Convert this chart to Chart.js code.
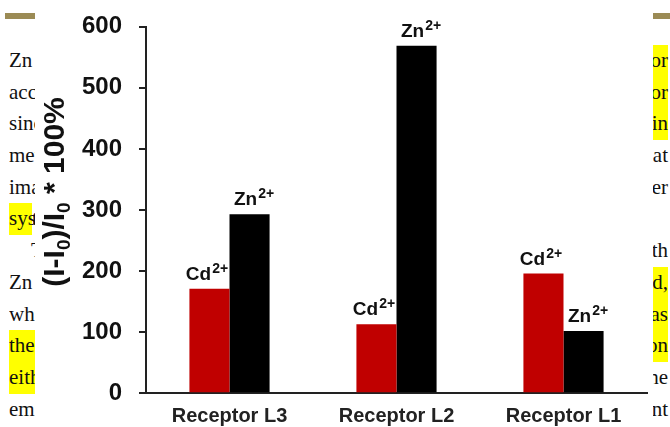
<!DOCTYPE html>
<html>
<head>
<meta charset="utf-8">
<script src="https://cdn.jsdelivr.net/npm/chart.js@4"></script>
<style>
  body { margin: 0; width: 670px; height: 427px; overflow: hidden; background: #fff; position: relative; }
  .rule { position: absolute; top: 13px; height: 6px; background: #9b8b55; }
  .col { position: absolute; top: 45px; height: 382px; overflow: hidden;
         font-family: "Liberation Serif", serif; font-size: 21px; line-height: 31.7px; color: #111; }
  .col div { white-space: nowrap; height: 31.7px; }
  .hl { background: #ffff00; display: inline-block; }
  #left { left: 9px; width: 26px; }
  #right { left: 653px; width: 17px; }
  #right .inner { position: absolute; right: 2px; top: 0; text-align: right; }
  #wrap { position: absolute; left: 35px; top: 0; width: 618px; height: 427px; background: #fff; }
</style>
</head>
<body>
<div class="rule" style="left:5px;width:30px"></div>
<div class="rule" style="left:653px;width:17px"></div>

<div class="col" id="left">
  <div>Zn</div>
  <div>accepted</div>
  <div>since</div>
  <div>metal</div>
  <div>imaging</div>
  <div><span class="hl" style="width:23px">sys</span>tem</div>
  <div style="padding-left:22px">The</div>
  <div>Zn</div>
  <div>which</div>
  <div><span class="hl" style="width:26px">the</span></div>
  <div><span class="hl" style="width:26px">either</span></div>
  <div>emission</div>
</div>

<div class="col" id="right">
  <div class="inner">
    <div><span class="hl" style="padding-left:20px">for</span></div>
    <div><span class="hl" style="padding-left:20px">for</span></div>
    <div><span class="hl" style="padding-left:20px">ain</span></div>
    <div>that</div>
    <div>ever</div>
    <div>&nbsp;</div>
    <div>with</div>
    <div><span class="hl" style="padding-left:20px">ed,</span></div>
    <div><span class="hl" style="padding-left:20px">was</span></div>
    <div><span class="hl" style="padding-left:20px">on</span></div>
    <div>the</div>
    <div>ent</div>
  </div>
</div>

<div id="wrap"><canvas id="myChart" width="618" height="427"></canvas></div>

<script>
// receptors along the x-axis
var receptors = ['Receptor L3', 'Receptor L2', 'Receptor L1'];
// response of each receptor to the two metal ions
var cadmium = [171, 113, 196];
var zinc = [293, 569, 102];
var ions = ['Cd', 'Zn'];
var charge = '2+';
// y-axis range
var yMin = 0, yMax = 600, yStep = 100;

var sans = '"Liberation Sans", Arial, sans-serif';

// ion labels above every bar, with the charge as a superscript
var ionLabels = {
  id: 'ionLabels',
  afterDatasetsDraw: function (chart) {
    var ctx = chart.ctx;
    ctx.save();
    ctx.fillStyle = '#111';
    ctx.textBaseline = 'alphabetic';
    ctx.textAlign = 'left';
    chart.data.datasets.forEach(function (ds, i) {
      var shift = i === 0 ? -3 : 4;
      chart.getDatasetMeta(i).data.forEach(function (bar) {
        ctx.font = 'bold 19px ' + sans;
        var w1 = ctx.measureText(ds.label).width;
        ctx.font = 'bold 14px ' + sans;
        var w2 = ctx.measureText(charge).width;
        var x = bar.x + shift - (w1 + w2) / 2;
        var y = bar.y - 9;
        ctx.font = 'bold 19px ' + sans;
        ctx.fillText(ds.label, x, y);
        ctx.font = 'bold 14px ' + sans;
        ctx.fillText(charge, x + w1 + 1, y - 7);
      });
    });
    ctx.restore();
  }
};

// rotated y-axis title with subscripts
var yTitle = {
  id: 'yTitle',
  afterDraw: function (chart) {
    var ctx = chart.ctx;
    var parts = [['(I-I', 0], ['0', 1], [')/I', 0], ['0', 1], [' * 100%', 0]];
    var big = 'bold 30px ' + sans, small = 'bold 19px ' + sans;
    var total = 0;
    parts.forEach(function (p) {
      ctx.font = p[1] ? small : big;
      total += ctx.measureText(p[0]).width;
    });
    ctx.save();
    ctx.translate(29, 192);
    ctx.rotate(-Math.PI / 2);
    ctx.fillStyle = '#111';
    ctx.textBaseline = 'alphabetic';
    var x = -total / 2;
    parts.forEach(function (p) {
      ctx.font = p[1] ? small : big;
      ctx.fillText(p[0], x, p[1] ? 6 : 0);
      x += ctx.measureText(p[0]).width;
    });
    ctx.restore();
  }
};

var ctx = document.getElementById('myChart');
var myChart = new Chart(ctx, {
  type: 'bar',
  data: {
    labels: receptors,
    datasets: [
      {
        label: ions[0],
        data: cadmium,
        backgroundColor: '#c00000',
        barPercentage: 1,
        categoryPercentage: 0.48
      },
      {
        label: ions[1],
        data: zinc,
        backgroundColor: '#000000',
        barPercentage: 1,
        categoryPercentage: 0.48
      }
    ]
  },
  options: {
    responsive: false,
    animation: false,
    layout: { padding: { top: 26.7, right: 6, left: 0, bottom: 0 } },
    plugins: { legend: { display: false }, tooltip: { enabled: false } },
    scales: {
      x: {
        grid: { display: false },
        border: { display: true, color: '#222', width: 2 },
        ticks: { color: '#222', padding: 3, font: { family: sans, size: 20, weight: 'bold' } },
        afterFit: function (scale) { scale.height = 33.7; }
      },
      y: {
        min: yMin,
        max: yMax,
        ticks: { stepSize: yStep, color: '#111', padding: 17, font: { family: sans, size: 24, weight: 'bold' } },
        grid: { drawOnChartArea: false, drawTicks: true, tickLength: 7, color: '#222', lineWidth: 2 },
        border: { display: true, color: '#222', width: 2 },
        afterFit: function (scale) {
          scale.width = 111;
          scale.paddingTop = 0;
          scale.paddingBottom = 0;
        }
      }
    }
  },
  plugins: [ionLabels, yTitle]
});
</script>
</body>
</html>
